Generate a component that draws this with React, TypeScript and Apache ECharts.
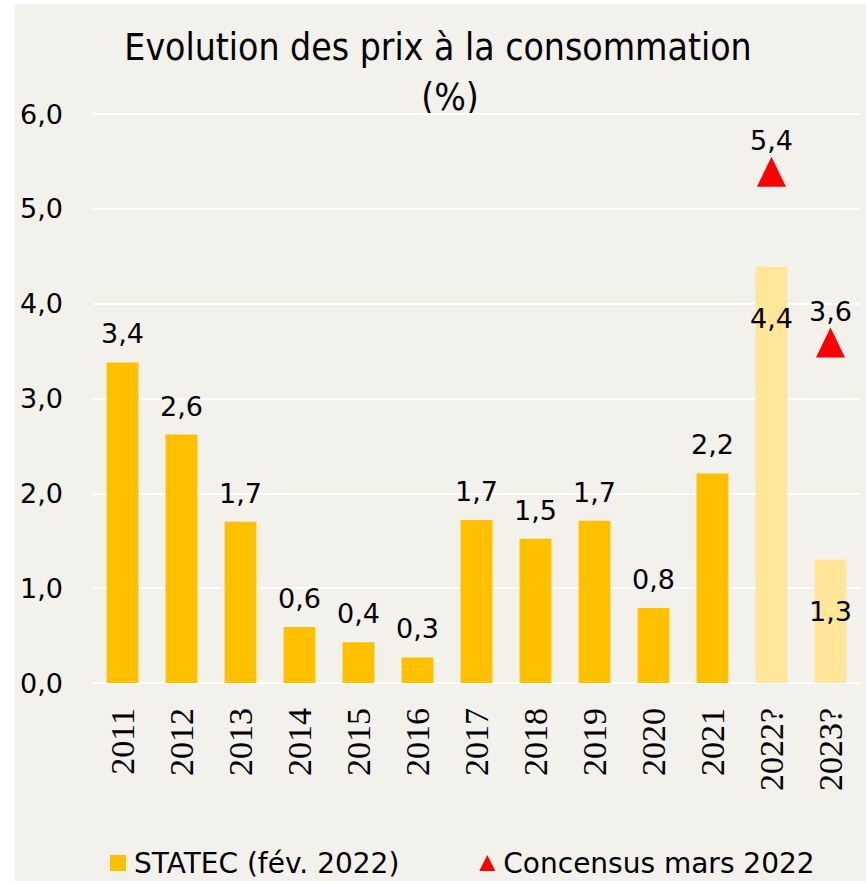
import React, { useEffect, useRef } from "react";
import * as echarts from "echarts";

const categories = ["2011", "2012", "2013", "2014", "2015", "2016", "2017", "2018", "2019", "2020", "2021", "2022?", "2023?"];
const statecValues = [3.38, 2.62, 1.7, 0.59, 0.43, 0.27, 1.72, 1.52, 1.71, 0.79, 2.21, 4.39, 1.3];
const isForecast = [false, false, false, false, false, false, false, false, false, false, false, true, true];
const consensusValues: (number | string)[] = ["-", "-", "-", "-", "-", "-", "-", "-", "-", "-", "-", 5.39, 3.59];
const titleLine1 = "Evolution des prix à la consommation";
const titleLine2 = "(%)";
const statecName = "STATEC (fév. 2022)";
const consensusName = "Concensus mars 2022";

const fmt = (v: number) => v.toFixed(1).replace(".", ",");

export default function App() {
  const ref = useRef<HTMLDivElement>(null);
  useEffect(() => {
    if (!ref.current) return;
    const chart = echarts.init(ref.current, undefined, { renderer: "svg" });
    const numFont = "DejaVu Sans";
    chart.setOption({
      animation: false,
      backgroundColor: "#F2F1EC",
      graphic: [
        {
          type: "text",
          x: 423,
          y: 43,
          style: {
            text: titleLine1,
            fontFamily: "DejaVu Sans Condensed",
            fontSize: 37,
            fill: "#000",
            align: "center",
            verticalAlign: "middle",
          },
        },
        {
          type: "text",
          x: 435,
          y: 93,
          style: {
            text: titleLine2,
            fontFamily: "DejaVu Sans Condensed",
            fontSize: 37,
            fill: "#000",
            align: "center",
            verticalAlign: "middle",
          },
        },
      ],
      grid: { left: 78, right: 6, top: 110, bottom: 198, containLabel: false },
      legend: {
        left: 90,
        top: 838,
        itemWidth: 16,
        itemHeight: 16,
        itemGap: 80,
        textStyle: { fontFamily: numFont, fontSize: 28, color: "#000", lineHeight: 32, padding: [0, 0, 0, 3] },
        data: [
          { name: statecName, icon: "rect", itemStyle: { color: "#FFC000" } },
          { name: consensusName, icon: "triangle", itemStyle: { color: "#FF0000", opacity: 1 } },
        ],
      },
      xAxis: {
        type: "category",
        data: categories,
        axisLine: { show: false },
        axisTick: { show: false },
        axisLabel: {
          rotate: 90,
          margin: 25,
          fontFamily: "Liberation Sans Narrow",
          fontSize: 34,
          color: "#000",
          interval: 0,
        },
      },
      yAxis: {
        type: "value",
        min: 0,
        max: 6,
        interval: 1,
        axisLine: { show: false },
        axisTick: { show: false },
        splitLine: { show: true, lineStyle: { color: "#FFFFFF", width: 2 } },
        axisLabel: {
          margin: 30,
          fontFamily: numFont,
          fontSize: 27,
          color: "#000",
          formatter: (v: number) => fmt(v),
        },
      },
      series: [
        {
          name: statecName,
          type: "bar",
          barWidth: "54%",
          itemStyle: { color: "#FFC000" },
          label: {
            show: true,
            position: "top",
            distance: 15,
            fontFamily: numFont,
            fontSize: 27,
            lineHeight: 27,
            color: "#000",
            formatter: (p: any) => fmt(p.value),
          },
          data: statecValues.map((v, i) =>
            isForecast[i]
              ? { value: v, itemStyle: { color: "#FFE699" }, label: { position: "insideTop", distance: 38 } }
              : { value: v }
          ),
        },
        {
          name: consensusName,
          type: "scatter",
          symbol: "triangle",
          symbolSize: [29, 30],
          itemStyle: { color: "#FF0000", opacity: 1 },
          label: {
            show: true,
            position: "top",
            distance: 3,
            fontFamily: numFont,
            fontSize: 27,
            lineHeight: 27,
            color: "#000",
            opacity: 1,
            formatter: (p: any) => fmt(p.value),
          },
          data: consensusValues,
        },
      ],
    });
    return () => chart.dispose();
  }, []);
  return (
    <div
      ref={ref}
      style={{ position: "fixed", left: 15, top: 4, width: 851, height: 877 }}
    />
  );
}
